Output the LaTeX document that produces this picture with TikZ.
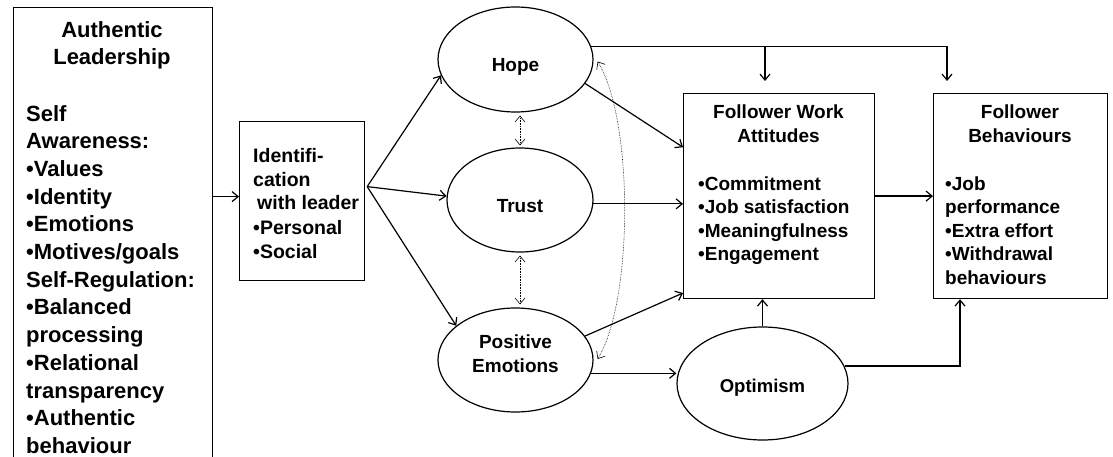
\documentclass[tikz,border=0pt]{standalone}
\usepackage{fontspec}
\setmainfont{Liberation Sans}
\usetikzlibrary{arrows.meta,shapes.geometric,calc}
\begin{document}
\begin{tikzpicture}[x=1pt,y=-1pt,
  box/.style={draw, line width=1.2pt, inner sep=0pt, anchor=north west},
  oval/.style={draw, ellipse, line width=1.2pt, inner sep=0pt},
  lab/.style={inner sep=0pt, align=center, anchor=base, font=\fontsize{19}{24}\selectfont\bfseries},
  txt/.style={inner sep=0pt, align=left, anchor=base west},
  arr/.style={line width=1.2pt, -{Straight Barb[length=6pt,width=10pt]}},
  plainline/.style={line width=1.2pt},
  dots/.style={line width=0.6pt, densely dotted, {Straight Barb[length=6pt,width=10pt]}-{Straight Barb[length=6pt,width=10pt]}}
]
\useasboundingbox (0,0) rectangle (1113,457);
\clip (0,0) rectangle (1113,457);

% Authentic leadership box
\node[box, minimum width=199pt, minimum height=480pt] (al) at (13,7) {};
\node[lab, font=\fontsize{22}{27}\selectfont\bfseries] (altitle) at (112,65) {Authentic\\Leadership};
\node[txt, font=\fontsize{22}{27.7}\selectfont\bfseries] (allist) at (26,453.4)
  {Self\\Awareness:\\•Values\\•Identity\\•Emotions\\•Motives/goals\\Self-Regulation:\\•Balanced\\processing\\•Relational\\transparency\\•Authentic\\behaviour};

% Identification box
\node[box, minimum width=125pt, minimum height=159pt] (id) at (239,121) {};
\node[txt, font=\fontsize{19.5}{24}\selectfont\bfseries] (idtext) at (253,258)
  {Identifi-\\cation\\\hspace{4pt}with leader\\•Personal\\•Social};

% Follower work attitudes
\node[box, minimum width=191pt, minimum height=205pt] (fwa) at (683,93) {};
\node[lab, font=\fontsize{19}{24}\selectfont\bfseries] (fwatitle) at (778.5,143) {Follower Work\\Attitudes};
\node[txt, font=\fontsize{19}{23.5}\selectfont\bfseries] (fwalist) at (698,260.5)
  {•Commitment\\•Job satisfaction\\•Meaningfulness\\•Engagement};

% Follower behaviours
\node[box, minimum width=174pt, minimum height=205pt] (fb) at (933,93) {};
\node[lab, font=\fontsize{19}{24}\selectfont\bfseries] (fbtitle) at (1020,143) {Follower\\Behaviours};
\node[txt, font=\fontsize{19}{23.5}\selectfont\bfseries] (fblist) at (945,284)
  {•Job\\performance\\•Extra effort\\•Withdrawal\\behaviours};

% Ellipses
\node[oval, minimum width=155pt, minimum height=105pt] (hope) at (515.5,59.5) {};
\node[lab] (hopet) at (515.5,72) {Hope};
\node[oval, minimum width=146pt, minimum height=104pt] (trust) at (520,200) {};
\node[lab] (trustt) at (520,212) {Trust};
\node[oval, minimum width=155pt, minimum height=104pt] (pe) at (515.5,360) {};
\node[lab] (pet) at (515.5,372) {Positive\\Emotions};
\node[oval, minimum width=171pt, minimum height=113pt] (opt) at (762.5,383.5) {};
\node[lab, font=\fontsize{18.5}{24}\selectfont\bfseries] (optt) at (762.5,392) {Optimism};

% coordinates
\coordinate (idin) at ($(id.west)+(0,-4.5)$);
\coordinate (idout) at ($(id.east)+(2,-14.5)$);
\coordinate (fwain) at ($(fwa.north west)+(82,-12)$);
\coordinate (fbin) at ($(fb.north west)+(14,-12)$);
\coordinate (fbbot) at ($(fb.south west)+(27,0)$);

% connectors
\draw[arr] (al.east |- idin) -- (idin);
\draw[arr] (idout) -- (hope.192);
\draw[arr] (idout) -- (trust.177);
\draw[arr] (idout) -- (pe.150);

\draw[arr] (hope.-19) -- ($(fwa.north west)!0.263!(fwa.south west)$);
\draw[arr] (trust.-3) -- (trust.-3 -| fwa.west);
\draw[arr] (pe.19) -- ($(fwa.north west)!0.97!(fwa.south west)$);
\draw[arr] (pe.-10) -- (pe.-10 -| opt.west);
\draw[arr] (opt.north) -- (opt.north |- fwa.south);
\draw[arr] (opt.12) -| (fbbot);
\draw[arr] (fwa.east) -- (fb.west);

\draw[plainline] (hope.10) -- (hope.10 -| fbin);
\draw[arr] (hope.10 -| fwain) -- (fwain);
\draw[arr] (hope.10 -| fbin) -- (fbin);

\draw[dots, shorten <=3pt, shorten >=2pt] (trust.north |- hope.south) -- (trust.north);
\draw[dots, shorten <=3pt, shorten >=3pt] (trust.south) -- (trust.south |- pe.north);
\draw[dots] ($(hope.east)+(4,2)$) .. controls ($(hope.east)+(40,60)$) and ($(pe.east)+(40,-60)$) .. ($(pe.east)+(4,-1)$);
\end{tikzpicture}
\end{document}
